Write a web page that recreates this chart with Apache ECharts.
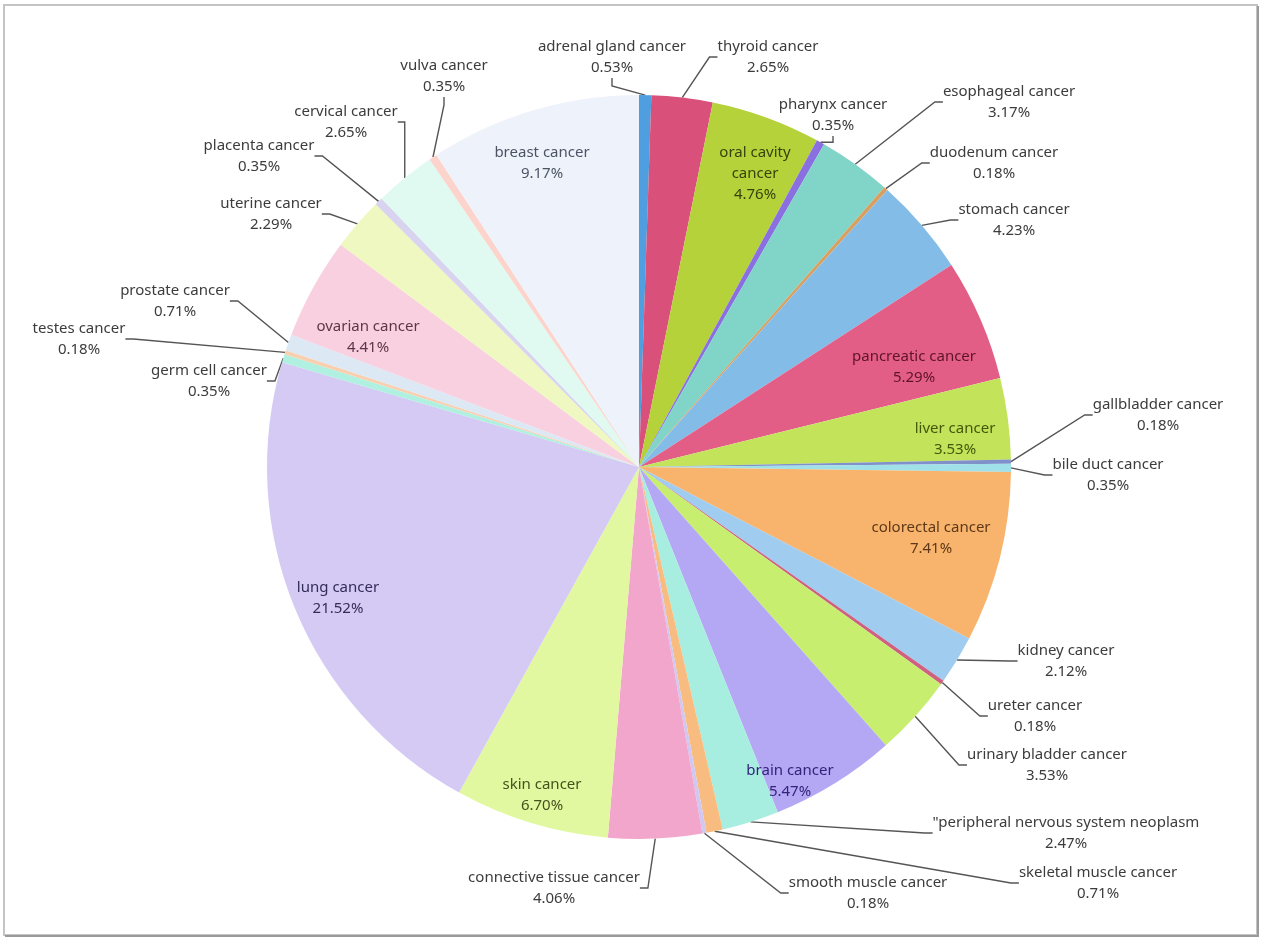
<!DOCTYPE html>
<html><head><meta charset="utf-8">
<script src="https://cdn.jsdelivr.net/npm/echarts@6/dist/echarts.min.js"></script>
<style>html,body{margin:0;padding:0;background:#fff}#c{width:1264px;height:946px}</style>
</head><body><div id="c"></div>
<script>
const categories = ['adrenal gland cancer','thyroid cancer','oral cavity cancer','pharynx cancer','esophageal cancer','duodenum cancer','stomach cancer','pancreatic cancer','liver cancer','gallbladder cancer','bile duct cancer','colorectal cancer','kidney cancer','ureter cancer','urinary bladder cancer','brain cancer','"peripheral nervous system neoplasm','skeletal muscle cancer','smooth muscle cancer','connective tissue cancer','skin cancer','lung cancer','germ cell cancer','testes cancer','prostate cancer','ovarian cancer','uterine cancer','placenta cancer','cervical cancer','vulva cancer','breast cancer'];
const values = [0.53,2.65,4.76,0.35,3.17,0.18,4.23,5.29,3.53,0.18,0.35,7.41,2.12,0.18,3.53,5.47,2.47,0.71,0.18,4.06,6.70,21.52,0.35,0.18,0.71,4.41,2.29,0.35,2.65,0.35,9.17];
const colors = ['#4f9fe0','#d9507a','#b5d23a','#8a6fe0','#80d4c8','#d8a060','#84bce8','#e35e86','#c2e35a','#8090c8','#a0e0e8','#f8b46c','#a0ccf0','#d06080','#c8ee70','#b4a8f4','#a8eee0','#f8bc80','#d0c8f0','#f2a6cc','#e2f8a0','#d4caf4','#b0f0e0','#f8d0b0','#dce8f4','#f8d0e0','#eef8c0','#d8d4f0','#e0faf2','#fcd4cc','#eef2fa'];
const insideLabelColors = {'oral cavity cancer':'#34440c','pancreatic cancer':'#5e1428','liver cancer':'#44580c','colorectal cancer':'#5e3818','brain cancer':'#32247a','skin cancer':'#44521c','lung cancer':'#342c5a','ovarian cancer':'#603448','breast cancer':'#4c5464'};
// label text-block centres (layout only)
const labelCenters = [[612,57],[768,57],[755,174],[833,115],[1009,102],[994,163],[1014,220],[914,367],[955,439],[1158,415],[1108,475],[931,538],[1066,661],[1035,716],[1047,765],[790,781],[1066,833],[1098,883],[868,893],[554,888],[542,795],[338,598],[209,381],[79,339],[175,301],[368,337],[271,214],[259,156],[346,122],[444,76],[542,163]];

const chart = echarts.init(document.getElementById('c'));
const data = categories.map((n, i) => {
  const inside = insideLabelColors[n] !== undefined;
  return {
    name: n, value: values[i],
    itemStyle: {color: colors[i]},
    label: inside ? {position: 'inside', color: insideLabelColors[n]} : {position: 'outside', color: '#3c3c3c'},
    labelLine: {show: !inside}
  };
});
chart.setOption({
  animation: false,
  graphic: [
    {type: 'rect', shape: {x: 4, y: 5, width: 1253, height: 930}, style: {fill: 'none', stroke: '#c4c4c4', lineWidth: 2}, z: -1},
    {type: 'polyline', shape: {points: [[1258, 6], [1258, 936], [5, 936]]}, style: {fill: 'none', stroke: '#9a9a9a', lineWidth: 2}, z: -1}
  ],
  series: [{
    type: 'pie', center: [639, 467], radius: 372, startAngle: 90, clockwise: true,
    avoidLabelOverlap: false,
    data: data,
    itemStyle: {borderWidth: 0},
    label: {
      fontFamily: 'Noto Sans', fontSize: 15, lineHeight: 21, align: 'center',
      formatter: p => (p.name === 'oral cavity cancer' ? 'oral cavity\ncancer' : p.name) + '\n' + p.value.toFixed(2) + '%'
    },
    labelLine: {lineStyle: {color: '#555', width: 1.4}, length: 10, length2: 8, smooth: false},
    labelLayout: p => ({x: labelCenters[p.dataIndex][0], y: labelCenters[p.dataIndex][1], align: 'center', verticalAlign: 'middle'})
  }]
});
</script></body></html>
